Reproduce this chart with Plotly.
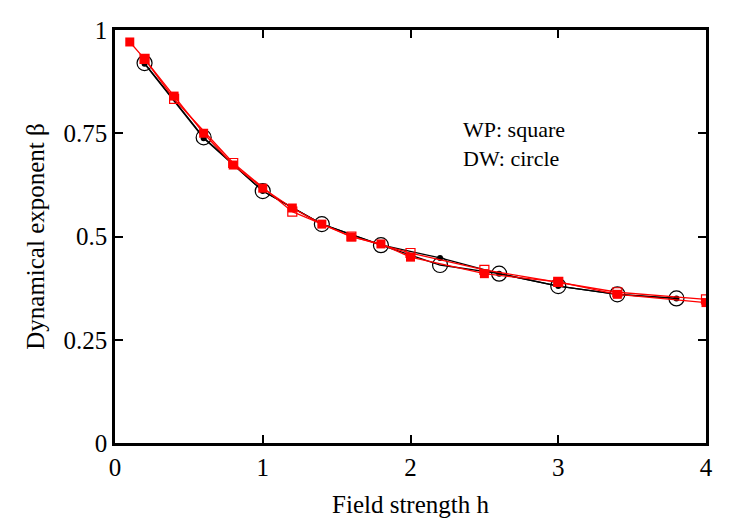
import plotly.graph_objects as go

# Red filled squares (WP)
wp_fill_x = [0.1, 0.2, 0.4, 0.6, 0.8, 1.0, 1.2, 1.4, 1.6, 1.8, 2.0, 2.5, 3.0, 3.4, 4.0]
wp_fill_y = [0.971, 0.93, 0.84, 0.75, 0.673, 0.617, 0.569, 0.53, 0.499, 0.482, 0.45, 0.41, 0.39, 0.36, 0.34]
# Red open squares (WP)
wp_open_x = [0.2, 0.4, 0.8, 1.2, 1.6, 2.0, 2.5, 3.0, 3.4, 4.0]
wp_open_y = [0.93, 0.833, 0.678, 0.56, 0.5, 0.46, 0.419, 0.39, 0.365, 0.348]
# Black filled dots (DW)
dw_fill_x = [0.2, 0.6, 1.0, 1.4, 1.8, 2.2, 2.6, 3.0, 3.4, 3.8]
dw_fill_y = [0.918, 0.738, 0.61, 0.53, 0.48, 0.448, 0.41, 0.38, 0.36, 0.35]
# Black open circles (DW)
dw_open_x = [0.2, 0.6, 1.0, 1.4, 1.8, 2.2, 2.6, 3.0, 3.4, 3.8]
dw_open_y = [0.92, 0.74, 0.61, 0.53, 0.479, 0.431, 0.41, 0.38, 0.36, 0.35]

x_ticks = [0, 1, 2, 3, 4]
y_ticks = [0, 0.25, 0.5, 0.75, 1]
y_tick_labels = ["0", "0.25", "0.5", "0.75", "1"]

font = "Liberation Serif, Times New Roman, serif"

fig = go.Figure()
fig.add_trace(go.Scatter(x=dw_open_x, y=dw_open_y, mode="lines+markers",
                         line=dict(color="black", width=1.3),
                         marker=dict(symbol="circle-open", size=15, color="black", line=dict(width=1.2))))
fig.add_trace(go.Scatter(x=dw_fill_x, y=dw_fill_y, mode="lines+markers",
                         line=dict(color="black", width=1.3),
                         marker=dict(symbol="circle", size=6, color="black")))
fig.add_trace(go.Scatter(x=wp_open_x, y=wp_open_y, mode="lines+markers",
                         line=dict(color="red", width=1.3),
                         marker=dict(symbol="square-open", size=9, color="red", line=dict(width=1.2))))
fig.add_trace(go.Scatter(x=wp_fill_x, y=wp_fill_y, mode="lines+markers",
                         line=dict(color="red", width=1.3),
                         marker=dict(symbol="square", size=9, color="red")))

fig.add_annotation(x=2.34, y=0.723, text="WP: square<br>DW: circle", showarrow=False,
                   xanchor="left", yanchor="middle", align="left",
                   font=dict(family=font, size=22, color="black"))

fig.update_layout(
    width=750, height=525,
    margin=dict(l=115, r=44, t=30, b=82),
    paper_bgcolor="white", plot_bgcolor="white",
    showlegend=False,
    font=dict(family=font, size=25, color="black"),
)
fig.update_xaxes(range=[0, 4], tickvals=x_ticks, ticks="inside", ticklen=8, tickwidth=1.5,
                 tickcolor="black", showline=True, linecolor="black", linewidth=2.5, mirror="ticks",
                 showgrid=False, zeroline=False, automargin=False,
                 title=dict(text="Field strength h", font=dict(size=25), standoff=16),
                 tickfont=dict(size=25))
fig.update_yaxes(range=[0, 1], tickvals=y_ticks, ticktext=y_tick_labels, ticks="inside", ticklen=8,
                 tickwidth=1.5, tickcolor="black", showline=True, linecolor="black", linewidth=2.5,
                 mirror="ticks", showgrid=False, zeroline=False, automargin=False,
                 title=dict(text="Dynamical exponent β", font=dict(size=25), standoff=12),
                 tickfont=dict(size=25))

fig.write_html("out.html")
